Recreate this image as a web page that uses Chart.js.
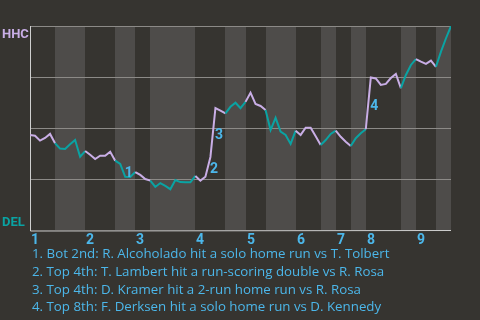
<!DOCTYPE html>
<html>
<head>
<meta charset="utf-8">
<script src="https://cdn.jsdelivr.net/npm/chart.js@4"></script>
<style>
  html, body { margin: 0; padding: 0; background: #363430; }
  #wrap { width: 480px; height: 320px; position: relative; }
</style>
</head>
<body>
<div id="wrap"><canvas id="wpChart" width="480" height="320"></canvas></div>
<script>
// win probability for HHC after each plate appearance (0 = DEL, 1 = HHC)
const winProb = [
  0.466, 0.462, 0.438, 0.451, 0.471, 0.425, 0.399, 0.397, 0.420, 0.441,
  0.359, 0.387, 0.369, 0.348, 0.364, 0.364, 0.384, 0.340, 0.324, 0.261,
  0.260, 0.284, 0.270, 0.250, 0.242, 0.211, 0.230, 0.216, 0.200, 0.245,
  0.235, 0.234, 0.234, 0.265, 0.242, 0.261, 0.358, 0.598, 0.585, 0.572,
  0.604, 0.624, 0.597, 0.628, 0.673, 0.618, 0.608, 0.588, 0.490, 0.550,
  0.482, 0.466, 0.422, 0.487, 0.466, 0.501, 0.501, 0.460, 0.417, 0.441,
  0.471, 0.487, 0.457, 0.433, 0.412, 0.450, 0.474, 0.494, 0.748, 0.743,
  0.711, 0.716, 0.745, 0.765, 0.695, 0.760, 0.809, 0.838, 0.825, 0.814,
  0.830, 0.800, 0.874, 0.940, 1.000
];
// plate appearance index where each half inning starts (top 1, bot 1, top 2, ...)
const halfStarts = [0, 5, 11, 17, 21, 24, 33, 39, 43, 47, 53, 58, 61, 64, 67, 74, 77, 81, 84];
const inningLabels = ['1', '2', '3', '4', '5', '6', '7', '8', '9'];
const gridValues = [0.25, 0.5, 0.75, 1];
const teams = ['HHC', 'DEL'];
// plate appearance that ends each key event
const eventIdx = [19, 36, 37, 68];
const eventNotes = [
  '1. Bot 2nd: R. Alcoholado hit a solo home run vs T. Tolbert',
  '2. Top 4th: T. Lambert hit a run-scoring double vs R. Rosa',
  '3. Top 4th: D. Kramer hit a 2-run home run vs R. Rosa',
  '4. Top 8th: F. Derksen hit a solo home run vs D. Kennedy'
];

const awayColor = '#c9aee6';
const homeColor = '#0aa3a3';
const textBlue = '#4cb7ea';

function halfOf(i) {
  let k = 0;
  while (k + 1 < halfStarts.length && halfStarts[k + 1] <= i) k++;
  return k;
}

const points = winProb.map((p, i) => ({ x: i, y: p }));

const backdrop = {
  id: 'backdrop',
  beforeDatasetsDraw(chart) {
    const { ctx, chartArea: a, scales: { x, y } } = chart;
    ctx.save();
    // half-inning bands
    for (let k = 0; k < halfStarts.length - 1; k++) {
      const x0 = Math.round(x.getPixelForValue(halfStarts[k]));
      const x1 = Math.round(x.getPixelForValue(halfStarts[k + 1]));
      ctx.fillStyle = k % 2 === 0 ? '#363430' : '#4e4c4a';
      ctx.fillRect(x0, a.top, x1 - x0, a.bottom - a.top);
    }
    // grid lines
    ctx.strokeStyle = '#8c8a87';
    ctx.lineWidth = 1;
    gridValues.forEach(v => {
      const py = Math.round(y.getPixelForValue(v)) + 0.5;
      ctx.beginPath();
      ctx.moveTo(a.left, py);
      ctx.lineTo(a.right, py);
      ctx.stroke();
    });
    // axes
    ctx.strokeStyle = '#cfcfcf';
    ctx.beginPath();
    ctx.moveTo(a.left + 0.5, a.top);
    ctx.lineTo(a.left + 0.5, a.bottom + 1);
    ctx.lineTo(a.right, a.bottom + 0.5);
    ctx.stroke();
    ctx.restore();
  },
  afterDatasetsDraw(chart) {
    const { ctx, chartArea: a, scales: { x, y } } = chart;
    ctx.save();
    ctx.textAlign = 'left';
    ctx.textBaseline = 'alphabetic';
    // inning numbers
    ctx.font = 'bold 14px Roboto';
    ctx.fillStyle = textBlue;
    inningLabels.forEach((lab, n) => {
      const px = x.getPixelForValue(halfStarts[n * 2]);
      ctx.fillText(lab, Math.round(px) + 1, a.bottom + 14);
    });
    // team names
    ctx.font = 'bold 13px Roboto';
    ctx.fillStyle = awayColor;
    ctx.fillText(teams[0], 2, y.getPixelForValue(1) + 12);
    ctx.fillStyle = homeColor;
    ctx.fillText(teams[1], 2, y.getPixelForValue(0) - 4);
    // event markers
    ctx.font = 'bold 14px Roboto';
    ctx.fillStyle = textBlue;
    ctx.textBaseline = 'middle';
    eventIdx.forEach((idx, n) => {
      const mx = (x.getPixelForValue(idx - 1) + x.getPixelForValue(idx)) / 2;
      const my = (y.getPixelForValue(winProb[idx - 1]) + y.getPixelForValue(winProb[idx])) / 2;
      ctx.fillText(String(n + 1), mx + 2, my + 3);
    });
    // notes
    ctx.font = '13.3px "Open Sans"';
    ctx.textBaseline = 'alphabetic';
    eventNotes.forEach((t, n) => {
      ctx.fillText(t, 32, a.bottom + 28 + n * 17.8);
    });
    ctx.restore();
  }
};

new Chart(document.getElementById('wpChart').getContext('2d'), {
  type: 'line',
  data: {
    datasets: [{
      data: points,
      borderWidth: 2,
      pointRadius: 0,
      tension: 0,
      borderColor: awayColor,
      segment: {
        borderColor: c => halfOf(c.p0DataIndex) % 2 === 0 ? awayColor : homeColor
      }
    }]
  },
  options: {
    responsive: false,
    animation: false,
    layout: { padding: { left: 30, top: 26, right: 29, bottom: 90 } },
    plugins: { legend: { display: false }, tooltip: { enabled: false } },
    scales: {
      x: { type: 'linear', display: false, min: 0, max: winProb.length - 1 },
      y: { display: false, min: 0, max: 1 }
    }
  },
  plugins: [backdrop]
});
</script>
</body>
</html>
